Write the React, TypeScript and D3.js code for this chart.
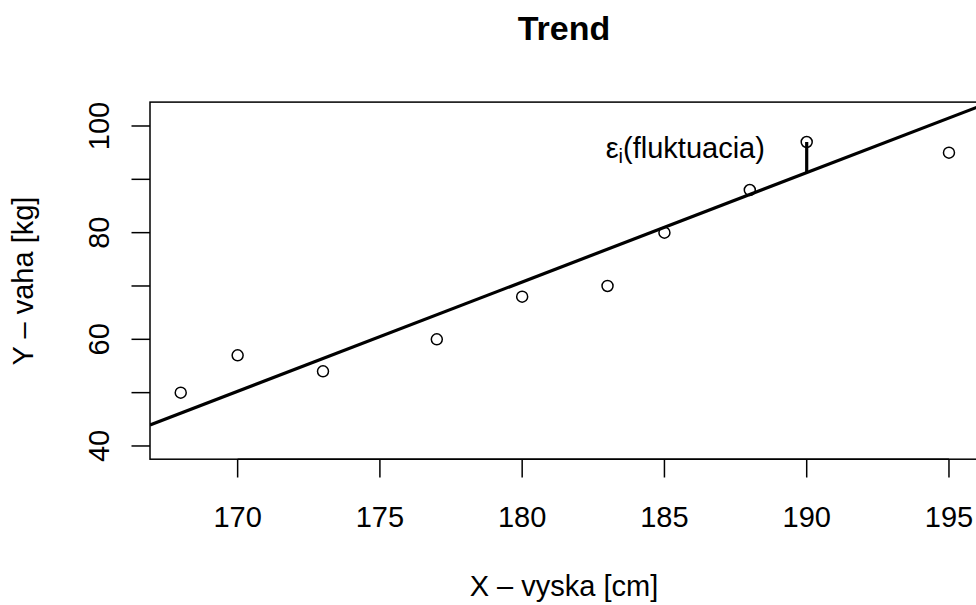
import React from "react";
import * as d3 from "d3";

// data
const vyska = [168, 170, 173, 177, 180, 183, 185, 188, 190, 195];
const vaha = [50, 57, 54, 60, 68, 70, 80, 88, 97, 95];
const trend = { intercept: -298.25, slope: 2.05 };
const xTicks = [170, 175, 180, 185, 190, 195];
const yTicks = [40, 50, 60, 70, 80, 90, 100];
const yLabels = [40, 60, 80, 100];
const fluktIndex = 8;

const W = 976;
const H = 605;
const font = "'Liberation Sans', Arial, Helvetica, sans-serif";

export default function App() {
  const x = d3.scaleLinear().domain([166.92, 196.08]).range([150, 979.7]);
  const y = d3.scaleLinear().domain([37.52, 104.48]).range([459.2, 102.1]);
  const [x0, x1] = x.domain();
  const line = d3
    .line<number>()
    .x((d) => x(d))
    .y((d) => y(trend.intercept + trend.slope * d));

  const fx = vyska[fluktIndex];
  const fy = vaha[fluktIndex];
  const fit = trend.intercept + trend.slope * fx;

  return (
    <svg
      width={W}
      height={H}
      style={{ position: "absolute", left: 0, top: 0, background: "#fff", overflow: "hidden" }}
      fontFamily={font}
    >
      <defs>
        <clipPath id="plotArea">
          <rect x={150} y={102.1} width={829.7} height={357.1} />
        </clipPath>
      </defs>
      <rect width={W} height={H} fill="#fff" />

      <text x={564} y={39.5} textAnchor="middle" fontSize={34}>
        <tspan fontWeight="bold">Trend</tspan>
      </text>

      {/* plot box */}
      <rect x={150} y={102.1} width={829.7} height={357.1} fill="none" stroke="#000" strokeWidth={1.5} />

      {/* x axis */}
      <line x1={x(xTicks[0])} x2={x(xTicks[xTicks.length - 1])} y1={459.2} y2={459.2} stroke="#000" strokeWidth={1.5} />
      {xTicks.map((t) => (
        <g key={t}>
          <line x1={x(t)} x2={x(t)} y1={459.2} y2={477.5} stroke="#000" strokeWidth={1.5} />
          <text x={x(t)} y={526.5} textAnchor="middle" fontSize={29}>
            {t}
          </text>
        </g>
      ))}

      {/* y axis */}
      {yTicks.map((t) => (
        <line key={t} x1={131.5} x2={150} y1={y(t)} y2={y(t)} stroke="#000" strokeWidth={1.5} />
      ))}
      {yLabels.map((t) => (
        <text
          key={t}
          transform={`translate(108.5,${y(t)}) rotate(-90)`}
          textAnchor="middle"
          fontSize={29}
        >
          {t}
        </text>
      ))}

      <text x={564} y={596} textAnchor="middle" fontSize={29}>
        X – vyska [cm]
      </text>
      <text transform={`translate(33,281) rotate(-90)`} textAnchor="middle" fontSize={29}>
        Y – vaha [kg]
      </text>

      <g clipPath="url(#plotArea)">
        <path d={line([x0, x1]) || ""} fill="none" stroke="#000" strokeWidth={3.2} />
        <line x1={x(fx)} x2={x(fx)} y1={y(fy)} y2={y(fit)} stroke="#000" strokeWidth={3.2} />
        {vyska.map((v, i) => (
          <circle key={i} cx={x(v)} cy={y(vaha[i])} r={5.5} fill="none" stroke="#000" strokeWidth={1.5} />
        ))}
      </g>

      <text x={x(188.53)} y={y(95)} dy="0.2em" textAnchor="end" fontSize={29}>
        ε
        <tspan fontSize={20} dy={5}>
          i
        </tspan>
        <tspan dy={-5}>(fluktuacia)</tspan>
      </text>
    </svg>
  );
}
